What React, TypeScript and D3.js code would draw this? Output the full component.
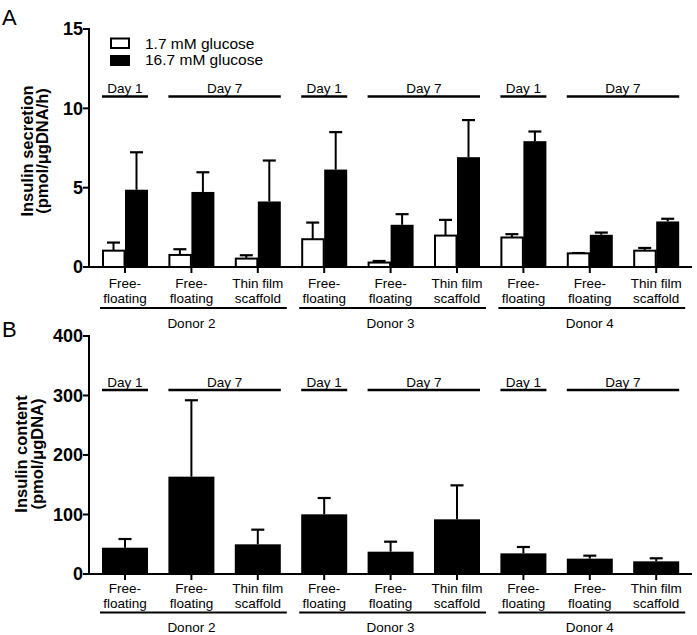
import React from 'react';
import * as d3 from 'd3';

const catLine1 = ['Free-', 'Free-', 'Thin film', 'Free-', 'Free-', 'Thin film', 'Free-', 'Free-', 'Thin film'];
const catLine2 = ['floating', 'floating', 'scaffold', 'floating', 'floating', 'scaffold', 'floating', 'floating', 'scaffold'];

const secretionLow = [1.03, 0.76, 0.53, 1.75, 0.28, 1.98, 1.86, 0.86, 1.03];
const secretionLowErr = [0.51, 0.36, 0.21, 1.05, 0.1, 0.99, 0.21, 0.02, 0.17];
const secretionHigh = [4.87, 4.73, 4.13, 6.14, 2.66, 6.92, 7.93, 2.03, 2.87];
const secretionHighErr = [2.36, 1.24, 2.58, 2.36, 0.67, 2.34, 0.61, 0.14, 0.17];

const content = [44.2, 163.6, 49.9, 100.3, 37.5, 91.9, 34.7, 25.8, 21.3];
const contentErr = [14.6, 128.4, 24.6, 27.4, 16.8, 57.1, 10.7, 5.0, 5.1];

const secretionTicks = [0, 5, 10, 15];
const contentTicks = [0, 100, 200, 300, 400];

const dayLabels = ['Day 1', 'Day 7', 'Day 1', 'Day 7', 'Day 1', 'Day 7'];
const daySpans = [[0, 0], [1, 2], [3, 3], [4, 5], [6, 6], [7, 8]];
const donorLabels = ['Donor 2', 'Donor 3', 'Donor 4'];
const donorSpans = [[0, 2], [3, 5], [6, 8]];

const legendLabels = ['1.7 mM glucose', '16.7 mM glucose'];

const FONT = '"Liberation Sans", Arial, Helvetica, sans-serif';

const x = d3.scaleBand<number>().domain(d3.range(9)).range([91.8, 689.4]).padding(0);
const cx = (i: number) => (x(i) as number) + x.bandwidth() / 2;

const AX_X = 89;
const AX_END = 692;
const HALF = 23;

function Panel({ y, ticks, title1, title2, titleX1, titleX2, titleY, dayY, catY, line2Off, underOff, donorOff, children }: any) {
  const y0 = y(0);
  return (
    <g>
      <line x1={AX_X} x2={AX_X} y1={y0 + 1} y2={y(ticks[ticks.length - 1]) - 1} stroke="#000" strokeWidth={2} />
      {ticks.map((t: number) => (
        <g key={t}>
          <line x1={AX_X - 6} x2={AX_X} y1={y(t)} y2={y(t)} stroke="#000" strokeWidth={2} />
          <text x={83} y={y(t)} dy="0.36em" textAnchor="end" fontFamily={FONT} fontWeight="bold" fontSize={18}>{t}</text>
        </g>
      ))}
      <text transform={`translate(${titleX1},${titleY}) rotate(-90)`} textAnchor="middle" fontFamily={FONT} fontWeight="bold" fontSize={16.5}>{title1}</text>
      <text transform={`translate(${titleX2},${titleY}) rotate(-90)`} textAnchor="middle" fontFamily={FONT} fontWeight="bold" fontSize={16.5}>{title2}</text>
      {children}
      <line x1={AX_X - 1} x2={AX_END} y1={y0} y2={y0} stroke="#000" strokeWidth={2} />
      {d3.range(9).map((i) => (
        <line key={i} x1={cx(i)} x2={cx(i)} y1={y0} y2={y0 + 6} stroke="#000" strokeWidth={2} />
      ))}
      {dayLabels.map((d, k) => {
        const a = cx(daySpans[k][0]) - HALF;
        const b = cx(daySpans[k][1]) + HALF;
        return (
          <g key={k}>
            <line x1={a} x2={b} y1={dayY} y2={dayY} stroke="#000" strokeWidth={2.5} />
            <text x={(a + b) / 2} y={dayY - 3.5} textAnchor="middle" fontFamily={FONT} fontSize={13.5}>{d}</text>
          </g>
        );
      })}
      {d3.range(9).map((i) => (
        <g key={i}>
          <text x={cx(i)} y={catY} textAnchor="middle" fontFamily={FONT} fontSize={13.5}>{catLine1[i]}</text>
          <text x={cx(i)} y={catY + line2Off} textAnchor="middle" fontFamily={FONT} fontSize={13.5}>{catLine2[i]}</text>
        </g>
      ))}
      {donorLabels.map((d, k) => {
        const a = cx(donorSpans[k][0]) - 25;
        const b = cx(donorSpans[k][1]) + 29;
        return (
          <g key={k}>
            <line x1={a} x2={b} y1={catY + underOff} y2={catY + underOff} stroke="#000" strokeWidth={2} />
            <text x={(cx(donorSpans[k][0]) + cx(donorSpans[k][1])) / 2} y={catY + donorOff} textAnchor="middle" fontFamily={FONT} fontSize={13.5}>{d}</text>
          </g>
        );
      })}
    </g>
  );
}

function ErrBar({ xc, yTop, yBar }: { xc: number; yTop: number; yBar: number }) {
  return (
    <g>
      <line x1={xc} x2={xc} y1={yBar} y2={yTop} stroke="#000" strokeWidth={2} />
      <line x1={xc - 6.5} x2={xc + 6.5} y1={yTop} y2={yTop} stroke="#000" strokeWidth={2.2} />
    </g>
  );
}

export default function App() {
  const yA = d3.scaleLinear().domain([0, 15]).range([267, 29]);
  const yB = d3.scaleLinear().domain([0, 400]).range([574, 336]);

  return (
    <div style={{ position: 'absolute', left: 0, top: 0 }}>
      <svg width={697} height={635} style={{ display: 'block', background: '#fff' }}>
        <rect width={697} height={635} fill="#fff" />
        <text x={2} y={25} fontFamily={FONT} fontSize={22}>A</text>
        <text x={2} y={337} fontFamily={FONT} fontSize={22}>B</text>

        <rect x={111} y={38.5} width={18} height={9.5} fill="#fff" stroke="#000" strokeWidth={2} />
        <rect x={110} y={55} width={20} height={11} fill="#000" />
        <text x={145} y={48.5} fontFamily={FONT} fontSize={15.5}>{legendLabels[0]}</text>
        <text x={145} y={64.5} fontFamily={FONT} fontSize={15.5}>{legendLabels[1]}</text>

        <Panel y={yA} ticks={secretionTicks} title1="Insulin secretion" title2="(pmol/μgDNA/h)" titleX1={33} titleX2={48} titleY={151} dayY={96.5} catY={288} line2Off={15} underOff={20} donorOff={39.5}>
          {d3.range(9).map((i) => {
            const c = cx(i);
            return (
              <g key={i}>
                <ErrBar xc={c - 11.5} yTop={yA(secretionLow[i] + secretionLowErr[i])} yBar={yA(secretionLow[i])} />
                <ErrBar xc={c + 11.5} yTop={yA(secretionHigh[i] + secretionHighErr[i])} yBar={yA(secretionHigh[i])} />
                <rect x={c - 22} y={yA(secretionLow[i])} width={21.5} height={yA(0) - yA(secretionLow[i])} fill="#fff" stroke="#000" strokeWidth={2} />
                <rect x={c} y={yA(secretionHigh[i])} width={HALF} height={yA(0) - yA(secretionHigh[i])} fill="#000" />
              </g>
            );
          })}
        </Panel>

        <Panel y={yB} ticks={contentTicks} title1="Insulin content" title2="(pmol/μgDNA)" titleX1={27} titleX2={43} titleY={454} dayY={390} catY={593} line2Off={15} underOff={19.5} donorOff={38.5}>
          {d3.range(9).map((i) => {
            const c = cx(i);
            return (
              <g key={i}>
                <ErrBar xc={c} yTop={yB(content[i] + contentErr[i])} yBar={yB(content[i])} />
                <rect x={c - HALF} y={yB(content[i])} width={HALF * 2} height={yB(0) - yB(content[i])} fill="#000" />
              </g>
            );
          })}
        </Panel>
      </svg>
    </div>
  );
}
